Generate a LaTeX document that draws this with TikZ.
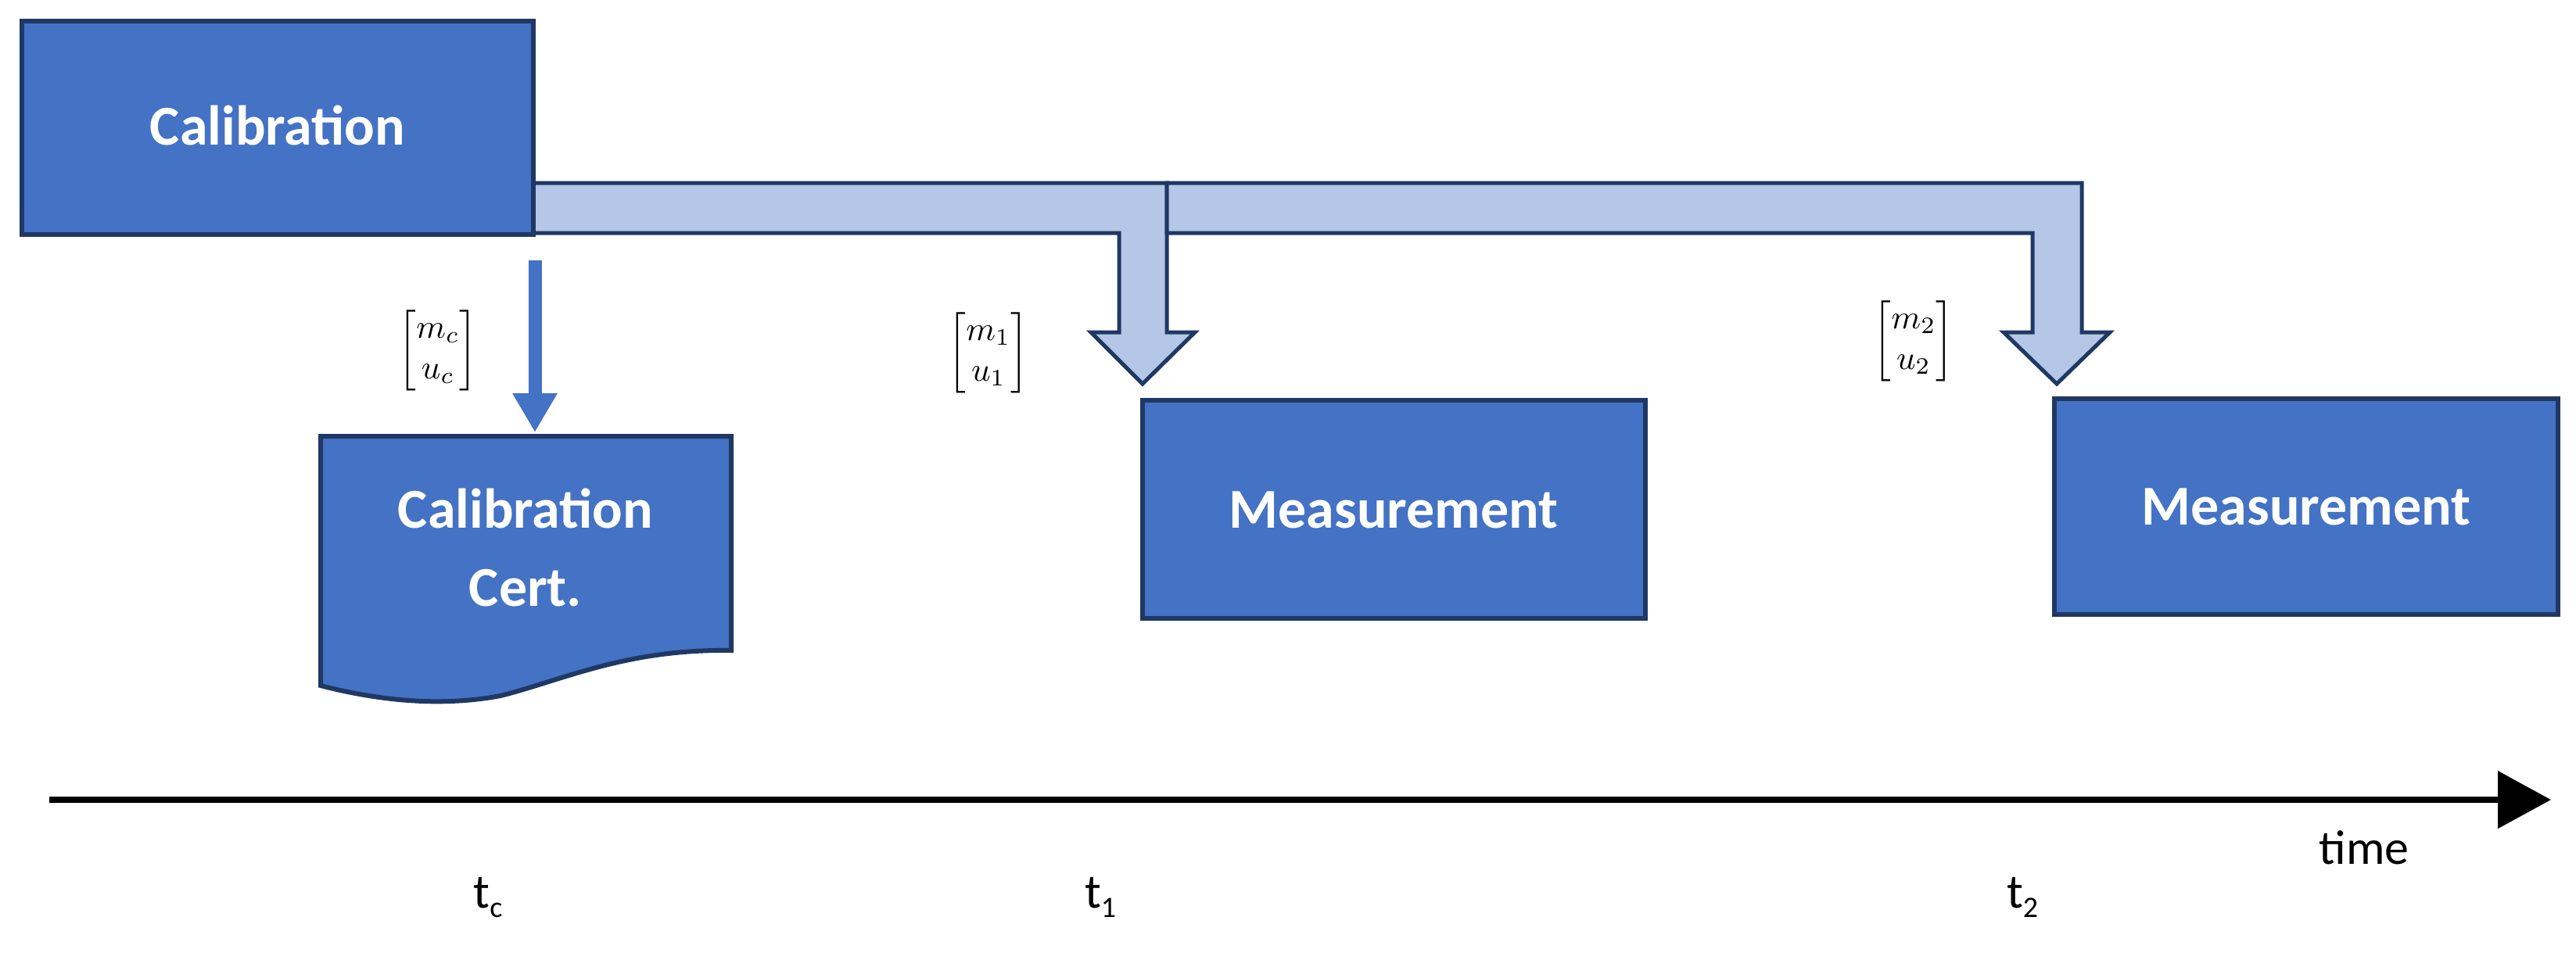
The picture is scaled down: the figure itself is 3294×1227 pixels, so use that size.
\documentclass[tikz,border=0pt]{standalone}
\usepackage{amsmath}
\usepackage{graphicx}
\usepackage{fontspec}
\setmainfont{Carlito}
\usetikzlibrary{arrows.meta}
\definecolor{boxblue}{HTML}{4472C4}
\definecolor{navy}{HTML}{1F3864}
\definecolor{lightblue}{HTML}{B4C7E7}
\begin{document}
\begin{tikzpicture}[x=1pt,y=-1pt,
  box/.style={draw=navy,fill=boxblue,line width=6pt},
  lbl/.style={text=white,font=\fontsize{72}{82}\selectfont\bfseries,align=center},
  big/.style={draw=navy,fill=lightblue,line width=5pt,line join=miter},
  mat/.style={inner sep=0pt},
  tl/.style={font=\fontsize{62}{70}\selectfont}]
\useasboundingbox (0,0) rectangle (3294,1227);
% big arrows
\draw[big] (682,234) -- (1492,234) -- (1492,425) -- (1528,425) -- (1461,491) -- (1395,425) -- (1431,425) -- (1431,298) -- (682,298) -- cycle;
\draw[big] (1492,234) -- (2662,234) -- (2662,425) -- (2698,425) -- (2630,491) -- (2562,425) -- (2599,425) -- (2599,298) -- (1492,298) -- cycle;
\draw[box] (28,27) rectangle (682,300);
\node[lbl] (cal) at (355,160) {Calibration};
% certificate
\draw[box] (410,558) -- (935,558) -- (935,832) .. controls (800,830) and (720,870) .. (640,890) .. controls (560,905) and (480,895) .. (410,877) -- cycle;
\node[lbl] (cert) at (672,700) {Calibration\\[18pt]Cert.};
\coordinate (cs) at (684,333);
\coordinate (ce) at (684,553);
\draw[boxblue,line width=17pt,-{Triangle[width=54pt,length=50pt]}] (cs) -- (ce);
% measurements
\draw[box] (1461,512) rectangle (2104,791);
\node[lbl] (m1) at (1782,652) {Measurement};
\draw[box] (2627,510) rectangle (3271,786);
\node[lbl] (m2) at (2949,648) {Measurement};
% matrices
\node[mat] (vc) at (560,448) {\scalebox{4.3}{$\begin{bmatrix} m_c\\ u_c\end{bmatrix}$}};
\node[mat] (v1) at (1264,451) {\scalebox{4.3}{$\begin{bmatrix} m_1\\ u_1\end{bmatrix}$}};
\node[mat] (v2) at (2447,436) {\scalebox{4.3}{$\begin{bmatrix} m_2\\ u_2\end{bmatrix}$}};
% time axis
\coordinate (ta) at (63,1023);
\coordinate (tb) at (3262,1023);
\draw[black,line width=8pt,-{Triangle[width=72pt,length=68pt]}] (ta) -- (tb);
\node[tl] (time) at (3023,1084) {time};
\node[tl] (tc) at (624,1148) {t\raisebox{-12pt}{\fontsize{38}{40}\selectfont c}};
\node[tl] (t1) at (1407,1148) {t\raisebox{-12pt}{\fontsize{38}{40}\selectfont 1}};
\node[tl] (t2) at (2586,1148) {t\raisebox{-12pt}{\fontsize{38}{40}\selectfont 2}};
\end{tikzpicture}
\end{document}
